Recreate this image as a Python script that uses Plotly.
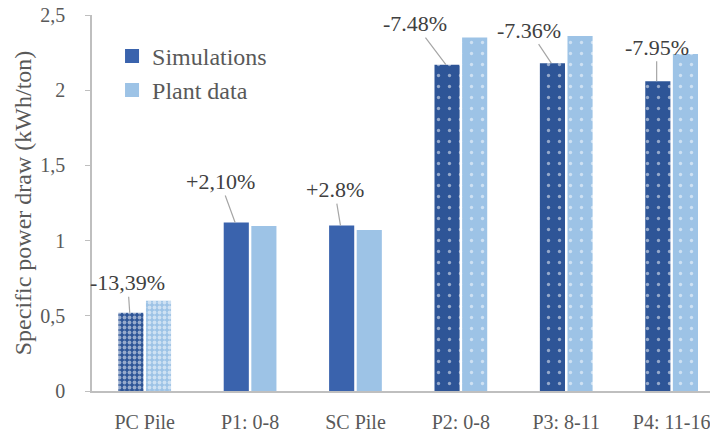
import plotly.graph_objects as go

categories = ["PC Pile", "P1: 0-8", "SC Pile", "P2: 0-8", "P3: 8-11", "P4: 11-16"]
simulations = [0.52, 1.12, 1.10, 2.17, 2.18, 2.06]
plant_data = [0.60, 1.097, 1.07, 2.35, 2.36, 2.24]
diff_labels = ["-13,39%", "+2,10%", "+2.8%", "-7.48%", "-7.36%", "-7.95%"]
label_ax = [-2, -15, -6, -31, -22, 0]
label_ay = [-30, -41, -36, -41, -33, -34]
y_ticks = [0, 0.5, 1, 1.5, 2, 2.5]
y_ticktext = ["0", "0,5", "1", "1,5", "2", "2,5"]

pattern_shape = [".", "", "", ".", ".", "."]
pattern_size = [5, 8, 8, 11, 11, 11]
pattern_solid = [0.45, 0.1, 0.1, 0.07, 0.07, 0.07]

SIM_SOLID = "#3A63AD"
SIM_DOT = "#2E5597"
PLANT = "#9DC3E6"
sim_colors = [SIM_DOT if s else SIM_SOLID for s in pattern_shape]

FONT = "P052"
TXT = "#595959"

x_idx = list(range(len(categories)))

fig = go.Figure()
fig.add_trace(go.Bar(
    x=x_idx, y=simulations, name="Simulations", showlegend=False,
    marker=dict(color=sim_colors, line=dict(width=0),
                pattern=dict(shape=pattern_shape, size=pattern_size,
                             solidity=pattern_solid, fgcolor="white",
                             fillmode="overlay")),
))
fig.add_trace(go.Bar(
    x=x_idx, y=plant_data, name="Plant data", showlegend=False,
    marker=dict(color=PLANT, line=dict(width=0),
                pattern=dict(shape=pattern_shape, size=pattern_size,
                             solidity=pattern_solid, fgcolor="white",
                             fillmode="overlay")),
))
# legend entries
fig.add_trace(go.Scatter(x=[None], y=[None], mode="markers", name="Simulations",
                         legendgroup="a",
                         marker=dict(symbol="square", size=14, color=SIM_SOLID)))
fig.add_trace(go.Scatter(x=[None], y=[None], mode="markers", name="Plant data",
                         legendgroup="b",
                         marker=dict(symbol="square", size=14, color=PLANT)))

offset = 0.142
for i, (v, lab) in enumerate(zip(simulations, diff_labels)):
    fig.add_annotation(x=i - offset, y=v, text=lab, showarrow=True,
                       arrowhead=0, arrowwidth=1.2, arrowcolor="#A6A6A6",
                       ax=label_ax[i], ay=label_ay[i], standoff=0,
                       font=dict(family=FONT, size=22, color="#404040"))

fig.update_layout(
    width=710, height=430,
    margin=dict(l=84, r=0, t=7, b=47),
    paper_bgcolor="white", plot_bgcolor="white",
    barmode="group", bargap=0.476, bargroupgap=0.09,
    legend=dict(x=0.032, y=0.95, xanchor="left", yanchor="top",
                font=dict(family=FONT, size=24, color=TXT),
                bgcolor="rgba(0,0,0,0)", tracegroupgap=9,
                traceorder="normal"),
)
fig.update_xaxes(
    range=[-0.5, 5.44], tickvals=x_idx, ticktext=categories,
    showline=True, linecolor="#BFBFBF", linewidth=1.5,
    ticks="", showgrid=False, zeroline=False, automargin=False,
    tickfont=dict(family=FONT, size=20, color=TXT), ticklabelstandoff=12,
)
fig.update_yaxes(
    range=[0, 2.5], tickvals=y_ticks, ticktext=y_ticktext,
    showline=True, linecolor="#BFBFBF", linewidth=1.5,
    ticks="outside", ticklen=5, tickcolor="#BFBFBF",
    showgrid=False, zeroline=False, ticklabeloverflow="allow", automargin=False,
    tickfont=dict(family=FONT, size=20, color=TXT), ticklabelstandoff=16,
    title=dict(text="Specific power draw (kWh/ton)", standoff=2,
               font=dict(family=FONT, size=24, color=TXT)),
)

fig.write_html("out.html")
